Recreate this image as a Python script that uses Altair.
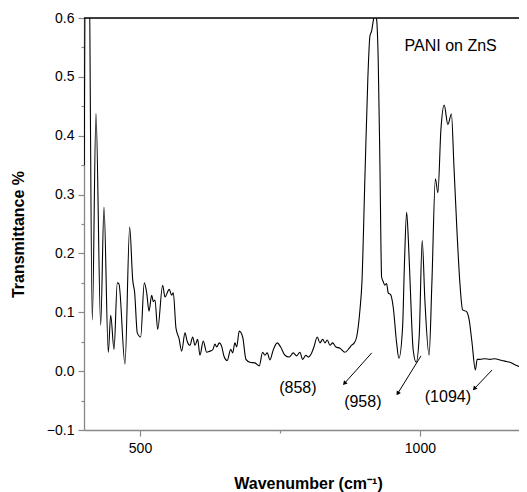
import altair as alt
import pandas as pd

# Spectrum
wavenumber = [400.5, 403.0, 408.0, 414.8, 421.4, 429.8, 435.7, 443.4, 447.7, 453.6,
              459.5, 462.5, 473.2, 481.6, 487.0, 490.5, 495.2, 501.2, 507.7, 512.0,
              516.1, 520.9, 523.8, 526.8, 531.6, 540.5, 544.6, 552.3, 556.6, 559.5,
              564.3, 569.6, 574.5, 580.4, 584.5, 589.3, 594.1, 598.2, 603.0, 607.1,
              613.0, 619.1, 625.0, 629.8, 633.9, 637.0, 641.6, 645.9, 650.5, 655.9,
              662.0, 665.5, 669.6, 672.7, 677.3, 683.4, 689.3, 696.4, 705.4, 713.0,
              719.1, 723.2, 727.3, 732.1, 738.0, 745.2, 751.3, 758.9, 766.6, 773.8,
              779.8, 785.7, 790.5, 796.4, 800.5, 806.6, 810.7, 816.6, 821.4, 826.3,
              830.4, 834.5, 839.3, 844.1, 850.0, 857.1, 866.1, 873.8, 878.0, 882.7,
              887.0, 889.8, 892.9, 896.4, 901.8, 907.1, 910.7, 913.8, 917.0, 919.6,
              922.3, 925.5, 928.6, 931.6, 934.5, 937.5, 940.5, 943.4, 947.7, 952.3,
              958.4, 962.5, 969.1, 972.3, 976.3, 979.5, 982.1, 988.0, 993.4, 998.8,
              1004.1, 1008.9, 1016.4, 1021.4, 1027.7, 1032.1, 1037.5, 1043.4, 1050.0, 1056.3,
              1060.7, 1066.1, 1071.4, 1076.3, 1083.4, 1088.0, 1092.9, 1099.1, 1102.3, 1107.1,
              1116.0, 1125.0, 1133.9, 1142.9, 1151.8, 1160.7, 1169.6, 1176.8, 1191.0]
transmittance = [0.35, 0.80, 0.80, 0.087, 0.438, 0.078, 0.279, 0.032, 0.095, 0.037,
                 0.150, 0.148, 0.012, 0.245, 0.155, 0.133, 0.065, 0.058, 0.150, 0.133,
                 0.102, 0.129, 0.118, 0.121, 0.071, 0.146, 0.126, 0.139, 0.129, 0.133,
                 0.073, 0.056, 0.034, 0.065, 0.050, 0.044, 0.058, 0.044, 0.054, 0.027,
                 0.051, 0.032, 0.034, 0.036, 0.046, 0.041, 0.048, 0.042, 0.024, 0.018,
                 0.037, 0.031, 0.048, 0.041, 0.068, 0.058, 0.020, 0.015, 0.014, 0.009,
                 0.032, 0.027, 0.031, 0.019, 0.036, 0.048, 0.041, 0.027, 0.024, 0.031,
                 0.026, 0.032, 0.020, 0.027, 0.024, 0.031, 0.041, 0.058, 0.048, 0.054,
                 0.048, 0.053, 0.044, 0.048, 0.041, 0.039, 0.032, 0.039, 0.044, 0.048,
                 0.058, 0.075, 0.104, 0.150, 0.330, 0.500, 0.569, 0.578, 0.597, 0.605,
                 0.600, 0.530, 0.350, 0.160, 0.152, 0.146, 0.149, 0.133, 0.130, 0.109,
                 0.048, 0.022, 0.075, 0.180, 0.270, 0.220, 0.160, 0.036, 0.015, 0.060,
                 0.222, 0.120, 0.027, 0.150, 0.327, 0.303, 0.410, 0.452, 0.419, 0.437,
                 0.350, 0.240, 0.150, 0.104, 0.101, 0.087, 0.050, 0.002, 0.020, 0.020,
                 0.021, 0.020, 0.021, 0.019, 0.017, 0.015, 0.011, 0.008, 0.002]

# Annotations
arrow_x = [914, 1002, 1129]
arrow_y = [0.031, 0.026, 0.002]
arrow_x2 = [866, 961, 1098]
arrow_y2 = [-0.020, -0.037, -0.029]
arrow_angle = [222, 212, 223]

label_text = ["(858)", "(958)", "(1094)"]
label_x = [782, 898, 1050]
label_y = [-0.029, -0.053, -0.044]

sample_text = ["PANI on ZnS"]
sample_x = [1055]
sample_y = [0.552]

top_value = [0.6]

y_major = [-0.1, 0.0, 0.1, 0.2, 0.3, 0.4, 0.5, 0.6]
y_minor = [-0.05, 0.05, 0.15, 0.25, 0.35, 0.45, 0.55]
x_major = [500, 1000]
x_minor = [750]

FONT = "Liberation Sans"

df = pd.DataFrame({"wn": wavenumber, "T": transmittance})
arrows = pd.DataFrame({"x": arrow_x, "y": arrow_y, "x2": arrow_x2, "y2": arrow_y2,
                       "angle": arrow_angle})
labels = pd.DataFrame({"x": label_x, "y": label_y, "text": label_text})
sample = pd.DataFrame({"x": sample_x, "y": sample_y, "text": sample_text})
top = pd.DataFrame({"y": top_value})

xscale = alt.Scale(domain=[400, 1177], nice=False, zero=False)
yscale = alt.Scale(domain=[-0.1, 0.6], nice=False, zero=False)

line = alt.Chart(df).mark_line(color="black", strokeWidth=1.1, clip=True,
                               interpolate="monotone").encode(
    x=alt.X("wn:Q", scale=xscale,
            axis=alt.Axis(orient="bottom", values=x_major, format="d", tickSize=6,
                          tickWidth=1.2, labelFontSize=14, labelPadding=5, grid=False,
                          title="Wavenumber (cm⁻¹)", titleFontSize=16,
                          titleFontWeight="bold", titleX=224, titleY=53,
                          titleBaseline="middle", titleAlign="center",
                          domainWidth=1.3)),
    y=alt.Y("T:Q", scale=yscale,
            axis=alt.Axis(orient="left", values=y_major, format=".1f", tickSize=6,
                          tickWidth=1.2, labelFontSize=14, labelPadding=4, grid=False,
                          title="Transmittance %", titleFontSize=16,
                          titleFontWeight="bold", titleX=-66, titleY=216,
                          titleAngle=270, titleBaseline="middle", titleAlign="center",
                          domainWidth=1.3)),
)

minor = alt.Chart(df).mark_point(opacity=0, clip=True).encode(
    x=alt.X("wn:Q", scale=xscale, title=None,
            axis=alt.Axis(orient="bottom", values=x_minor, tickSize=3, tickWidth=1.2,
                          labels=False, domain=False, grid=False)),
    y=alt.Y("T:Q", scale=yscale, title=None,
            axis=alt.Axis(orient="left", values=y_minor, tickSize=3, tickWidth=1.2,
                          labels=False, domain=False, grid=False)),
)

top_rule = alt.Chart(top).mark_rule(color="black", strokeWidth=1.3).encode(
    y=alt.Y("y:Q", scale=yscale, axis=None)
)

arrow_lines = alt.Chart(arrows).mark_rule(color="black", strokeWidth=1).encode(
    x=alt.X("x:Q", scale=xscale, axis=None),
    y=alt.Y("y:Q", scale=yscale, axis=None),
    x2="x2:Q", y2="y2:Q",
)

arrow_heads = alt.Chart(arrows).mark_point(shape="triangle", filled=True, color="black",
                                           size=24, opacity=1).encode(
    x=alt.X("x2:Q", scale=xscale, axis=None),
    y=alt.Y("y2:Q", scale=yscale, axis=None),
    angle=alt.Angle("angle:Q", scale=None),
)

label_marks = alt.Chart(labels).mark_text(font=FONT, fontSize=16, color="black",
                                          align="center", baseline="middle").encode(
    x=alt.X("x:Q", scale=xscale, axis=None),
    y=alt.Y("y:Q", scale=yscale, axis=None),
    text="text:N",
)

sample_mark = alt.Chart(sample).mark_text(font=FONT, fontSize=16, color="black",
                                          align="center", baseline="middle").encode(
    x=alt.X("x:Q", scale=xscale, axis=None),
    y=alt.Y("y:Q", scale=yscale, axis=None),
    text="text:N",
)

chart = alt.layer(line, minor, top_rule, arrow_lines, arrow_heads, label_marks,
                  sample_mark).resolve_axis(x="independent", y="independent").properties(
    width=435, height=412,
    padding={"left": 76, "top": 10, "right": 0, "bottom": 66},
    autosize=alt.AutoSizeParams(type="none"),
).configure_view(stroke=None).configure_axis(
    labelFont=FONT, titleFont=FONT, labelColor="black", titleColor="black",
    domainColor="black", tickColor="black",
).configure(background="white")

chart.save("out.html", embed_options={"renderer": "svg", "actions": False})
